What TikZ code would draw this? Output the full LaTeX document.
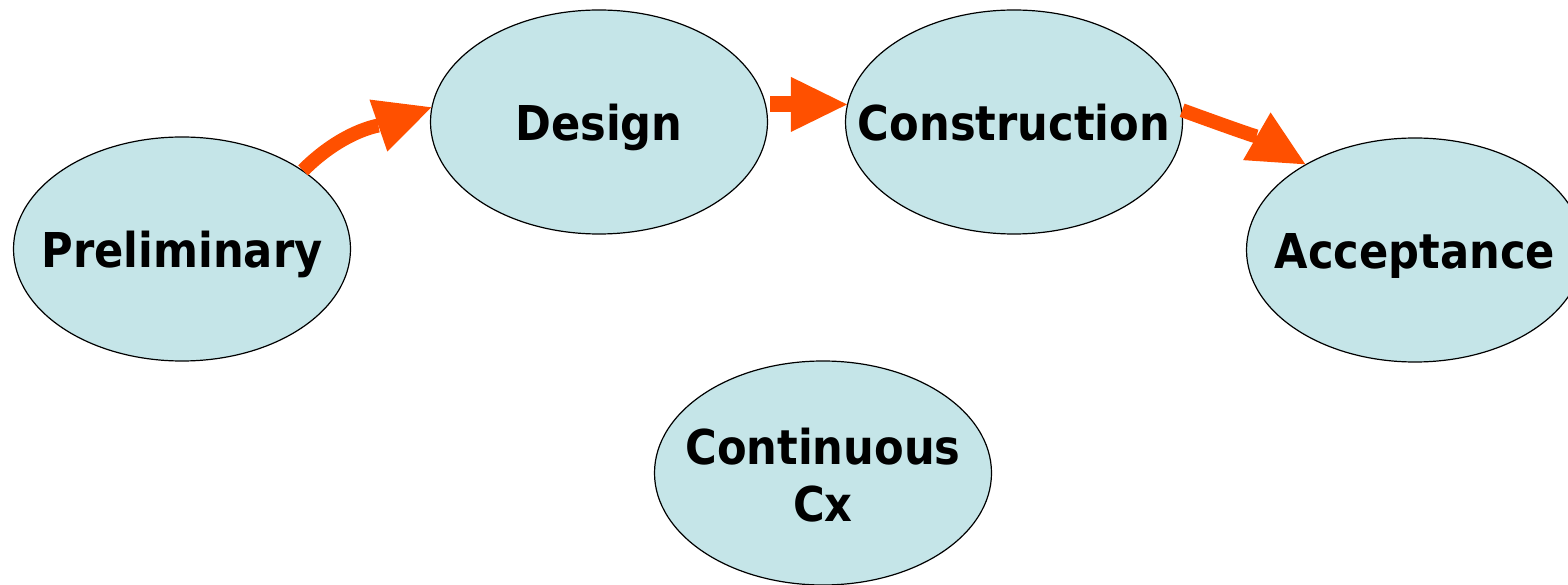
\documentclass[tikz,border=0pt]{standalone}
\usepackage{fontspec}
\newfontfamily\stagefont[FakeStretch=0.9]{DejaVu Sans}
\usetikzlibrary{arrows.meta,shapes.geometric}
\definecolor{stagefill}{RGB}{197,229,232}
\definecolor{flow}{RGB}{255,80,0}
\begin{document}
\begin{tikzpicture}[x=1pt,y=1pt,
  stage/.style={ellipse,draw=black,line width=1.2pt,fill=stagefill,
    minimum width=337pt,minimum height=224pt,inner sep=0pt},
  stagetext/.style={font=\stagefont\bfseries\fontsize{48}{57}\selectfont,
    align=center,inner sep=0pt,text=black},
  oneline/.style={stagetext,text height=35pt,text depth=0pt,yshift=-1.5pt},
  flowarrow/.style={draw=flow,line width=14pt,
    -{Triangle[length=56pt,width=55pt,line width=0pt]}}]
\useasboundingbox (0,0) rectangle (1568,584);
\clip (0,0) rectangle (1568,584);

% project phases
\node[stage,label={[oneline]center:Preliminary}] (pre) at (182,335) {};
\node[stage,label={[oneline]center:Design}] (des) at (599,462) {};
\node[stage,label={[oneline]center:Construction}] (con) at (1014,462) {};
\node[stage,label={[oneline]center:Acceptance}] (acc) at (1415,334) {};
\node[stage,label={[stagetext,yshift=-2pt]center:Continuous\\Cx}] (cx) at (823,111) {};

% flow between phases
\draw[flowarrow] (pre.33) to[out=45,in=199] (des.175);
\draw[flowarrow,line width=16pt,shorten <=4pt] (des.6) -- (con.174);
\draw[flowarrow] (con.4) to[out=-20,in=150] (acc.142.5);
\end{tikzpicture}
\end{document}
